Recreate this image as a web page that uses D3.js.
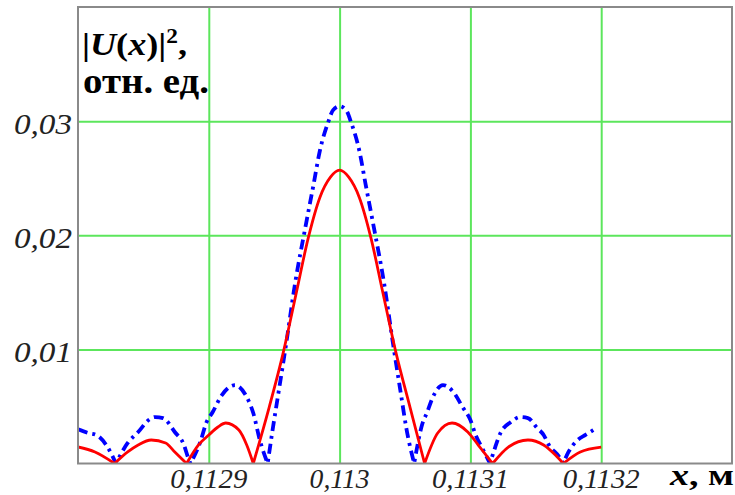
<!DOCTYPE html>
<html>
<head>
<meta charset="utf-8">
<script src="https://cdn.jsdelivr.net/npm/d3@7"></script>
<style>
  body { margin: 0; background: #fff; }
  text { font-family: "Liberation Serif", "Times New Roman", serif; }
</style>
</head>
<body>
<div class="chart"></div>
<script>
// tick values
var xTicks = [0.1129, 0.113, 0.1131, 0.1132];
var xTickLabels = ["0,1129", "0,113", "0,1131", "0,1132"];
var yTicks = [0.01, 0.02, 0.03];
var yTickLabels = ["0,01", "0,02", "0,03"];

// red solid curve
var redX = [0.112800, 0.112813, 0.112828, 0.112838, 0.112846, 0.112856, 0.112867, 0.112874, 0.112883,
  0.112892, 0.112900, 0.112907, 0.112913, 0.112923, 0.112929, 0.112934,
  0.112946, 0.112957, 0.112967, 0.112976, 0.112985, 0.112993, 0.113000, 0.113007, 0.113015,
  0.113024, 0.113033, 0.113043, 0.113054, 0.113065,
  0.113075, 0.113086, 0.113098, 0.113106, 0.113117,
  0.113129, 0.113144, 0.113156, 0.113165, 0.113171,
  0.113184, 0.113200];
var redU2 = [0.00145, 0.00101, 0, 0.00101, 0.00162, 0.00206, 0.00180, 0.00101, 0,
  0.00162, 0.00250, 0.00320, 0.00355, 0.00293, 0.00162, 0,
  0.00486, 0.00976, 0.01501, 0.01975, 0.02334, 0.02509, 0.02570, 0.02509, 0.02334,
  0.01975, 0.01501, 0.00976, 0.00486, 0,
  0.00267, 0.00355, 0.00276, 0.00162, 0,
  0.00144, 0.00206, 0.00162, 0.00074, 0,
  0.00101, 0.00144];

// blue dash-dot curve
var blueX = [0.112800, 0.112808, 0.112814, 0.112823, 0.112829,
  0.112838, 0.112846, 0.112854, 0.112859, 0.112865, 0.112874, 0.112881, 0.112884, 0.112886,
  0.112894, 0.112898, 0.112903, 0.112910, 0.112920, 0.112929, 0.112934, 0.112939, 0.112945,
  0.112949, 0.112953, 0.112959, 0.112966, 0.112974, 0.112980, 0.112985, 0.112991, 0.112995, 0.113000,
  0.113005, 0.113009, 0.113015, 0.113020, 0.113026, 0.113034, 0.113041, 0.113047, 0.113051, 0.113057,
  0.113063, 0.113067, 0.113071, 0.113079, 0.113087, 0.113094, 0.113100, 0.113104, 0.113109, 0.113115,
  0.113119, 0.113123, 0.113131, 0.113138, 0.113144, 0.113151, 0.113156, 0.113160, 0.113168, 0.113171,
  0.113175, 0.113182, 0.113188, 0.113194];
var blueU2 = [0.00300, 0.00267, 0.00250, 0.00136, 0,
  0.00180, 0.00276, 0.00381, 0.00407, 0.00398, 0.00276, 0.00162, 0.00057, 0,
  0.00206, 0.00355, 0.00451, 0.00600, 0.00687, 0.00582, 0.00442, 0.00206, 0,
  0.00311, 0.00600, 0.01038, 0.01581, 0.02080, 0.02439, 0.02745, 0.02982, 0.03096, 0.03131,
  0.03096, 0.02982, 0.02745, 0.02439, 0.02080, 0.01581, 0.01038, 0.00600, 0.00311, 0,
  0.00337, 0.00451, 0.00574, 0.00687, 0.00626, 0.00495, 0.00381, 0.00250, 0.00136, 0,
  0.00144, 0.00267, 0.00363, 0.00407, 0.00398, 0.00311, 0.00250, 0.00162, 0.00057, 0,
  0.00101, 0.00206, 0.00250, 0.00293];

var margin = {top: 7, right: 3, bottom: 31.5, left: 78},
    width = 735 - margin.left - margin.right,
    height = 495 - margin.top - margin.bottom;

var x = d3.scaleLinear().domain([0.1128, 0.1133]).range([0, width]);
var y = d3.scaleLinear().domain([0, 0.04]).range([height, 0]);

var svg = d3.select(".chart").append("svg")
    .attr("width", 735)
    .attr("height", 495)
  .append("g")
    .attr("transform", "translate(" + margin.left + "," + margin.top + ")");

svg.append("clipPath").attr("id", "plotclip")
  .append("rect").attr("width", width).attr("height", height);

// grid
svg.append("g")
    .attr("transform", "translate(0," + height + ")")
    .call(d3.axisBottom(x).tickValues(xTicks).tickSize(-height).tickFormat(""))
    .call(function(g) { g.select(".domain").remove(); })
    .selectAll("line").attr("stroke", "#5ce65c").attr("stroke-width", 2);

svg.append("g")
    .call(d3.axisLeft(y).tickValues(yTicks).tickSize(-width).tickFormat(""))
    .call(function(g) { g.select(".domain").remove(); })
    .selectAll("line").attr("stroke", "#5ce65c").attr("stroke-width", 2);

// lobes are drawn piecewise so the zeros keep their sharp points
var lobe = d3.line()
    .x(function(d) { return x(d[0]); })
    .y(function(d) { return y(d[1]); })
    .curve(d3.curveMonotoneX);

function lobePath(xs, vs) {
  var pts = xs.map(function(v, i) { return [v, vs[i]]; });
  var segs = [], cur = [];
  pts.forEach(function(p, i) {
    cur.push(p);
    if (p[1] === 0 && i > 0 && i < pts.length - 1) {
      segs.push(cur);
      cur = [p];
    }
  });
  if (cur.length > 1) segs.push(cur);
  return segs.map(function(s, i) {
    var d = lobe(s);
    return i ? "L" + d.slice(1) : d;
  }).join("");
}

var plot = svg.append("g").attr("clip-path", "url(#plotclip)");

plot.append("path")
    .attr("d", lobePath(blueX, blueU2))
    .attr("fill", "none")
    .attr("stroke", "#0000ff")
    .attr("stroke-width", 3.8)
    .attr("stroke-dasharray", "10,5,3,5");

plot.append("path")
    .attr("d", lobePath(redX, redU2))
    .attr("fill", "none")
    .attr("stroke", "#ff0000")
    .attr("stroke-width", 2.8);

// frame
svg.append("rect")
    .attr("width", width)
    .attr("height", height)
    .attr("fill", "none")
    .attr("stroke", "#8a8a8a")
    .attr("stroke-width", 2);

// tick labels
svg.selectAll(".xlab")
    .data(xTicks)
  .enter().append("text")
    .attr("class", "xlab")
    .attr("x", function(d) { return x(d); })
    .attr("y", height + 24)
    .attr("text-anchor", "middle")
    .attr("textLength", function(d, i) { return xTickLabels[i].length > 5 ? 77 : 60; })
    .attr("lengthAdjust", "spacingAndGlyphs")
    .style("font-size", "27px")
    .style("font-style", "italic")
    .style("fill", "#222")
    .text(function(d, i) { return xTickLabels[i]; });

svg.selectAll(".ylab")
    .data(yTicks)
  .enter().append("text")
    .attr("class", "ylab")
    .attr("x", -6)
    .attr("y", function(d) { return y(d) + 13; })
    .attr("text-anchor", "end")
    .attr("textLength", 58)
    .attr("lengthAdjust", "spacingAndGlyphs")
    .style("font-size", "29px")
    .style("font-style", "italic")
    .style("fill", "#222")
    .text(function(d, i) { return yTickLabels[i]; });

// axis titles
var xt = svg.append("text")
    .attr("x", width + 2)
    .attr("y", height + 21)
    .attr("text-anchor", "end")
    .attr("textLength", 64)
    .attr("lengthAdjust", "spacingAndGlyphs")
    .style("font-size", "30px")
    .style("font-weight", "bold");
xt.append("tspan").style("font-style", "italic").text("x");
xt.append("tspan").text(", м");

var yt = svg.append("text")
    .attr("x", 4)
    .attr("y", 48)
    .attr("textLength", 105)
    .attr("lengthAdjust", "spacingAndGlyphs")
    .style("font-size", "31px")
    .style("font-weight", "bold");
yt.append("tspan").text("|");
yt.append("tspan").style("font-style", "italic").text("U");
yt.append("tspan").text("(");
yt.append("tspan").style("font-style", "italic").text("x");
yt.append("tspan").text(")|");
yt.append("tspan").attr("dy", -12).style("font-size", "20px").text("2");
yt.append("tspan").attr("dy", 12).text(",");

svg.append("text")
    .attr("x", 5)
    .attr("y", 86)
    .attr("textLength", 126)
    .attr("lengthAdjust", "spacingAndGlyphs")
    .style("font-size", "35px")
    .style("font-weight", "bold")
    .text("отн. ед.");
</script>
</body>
</html>
